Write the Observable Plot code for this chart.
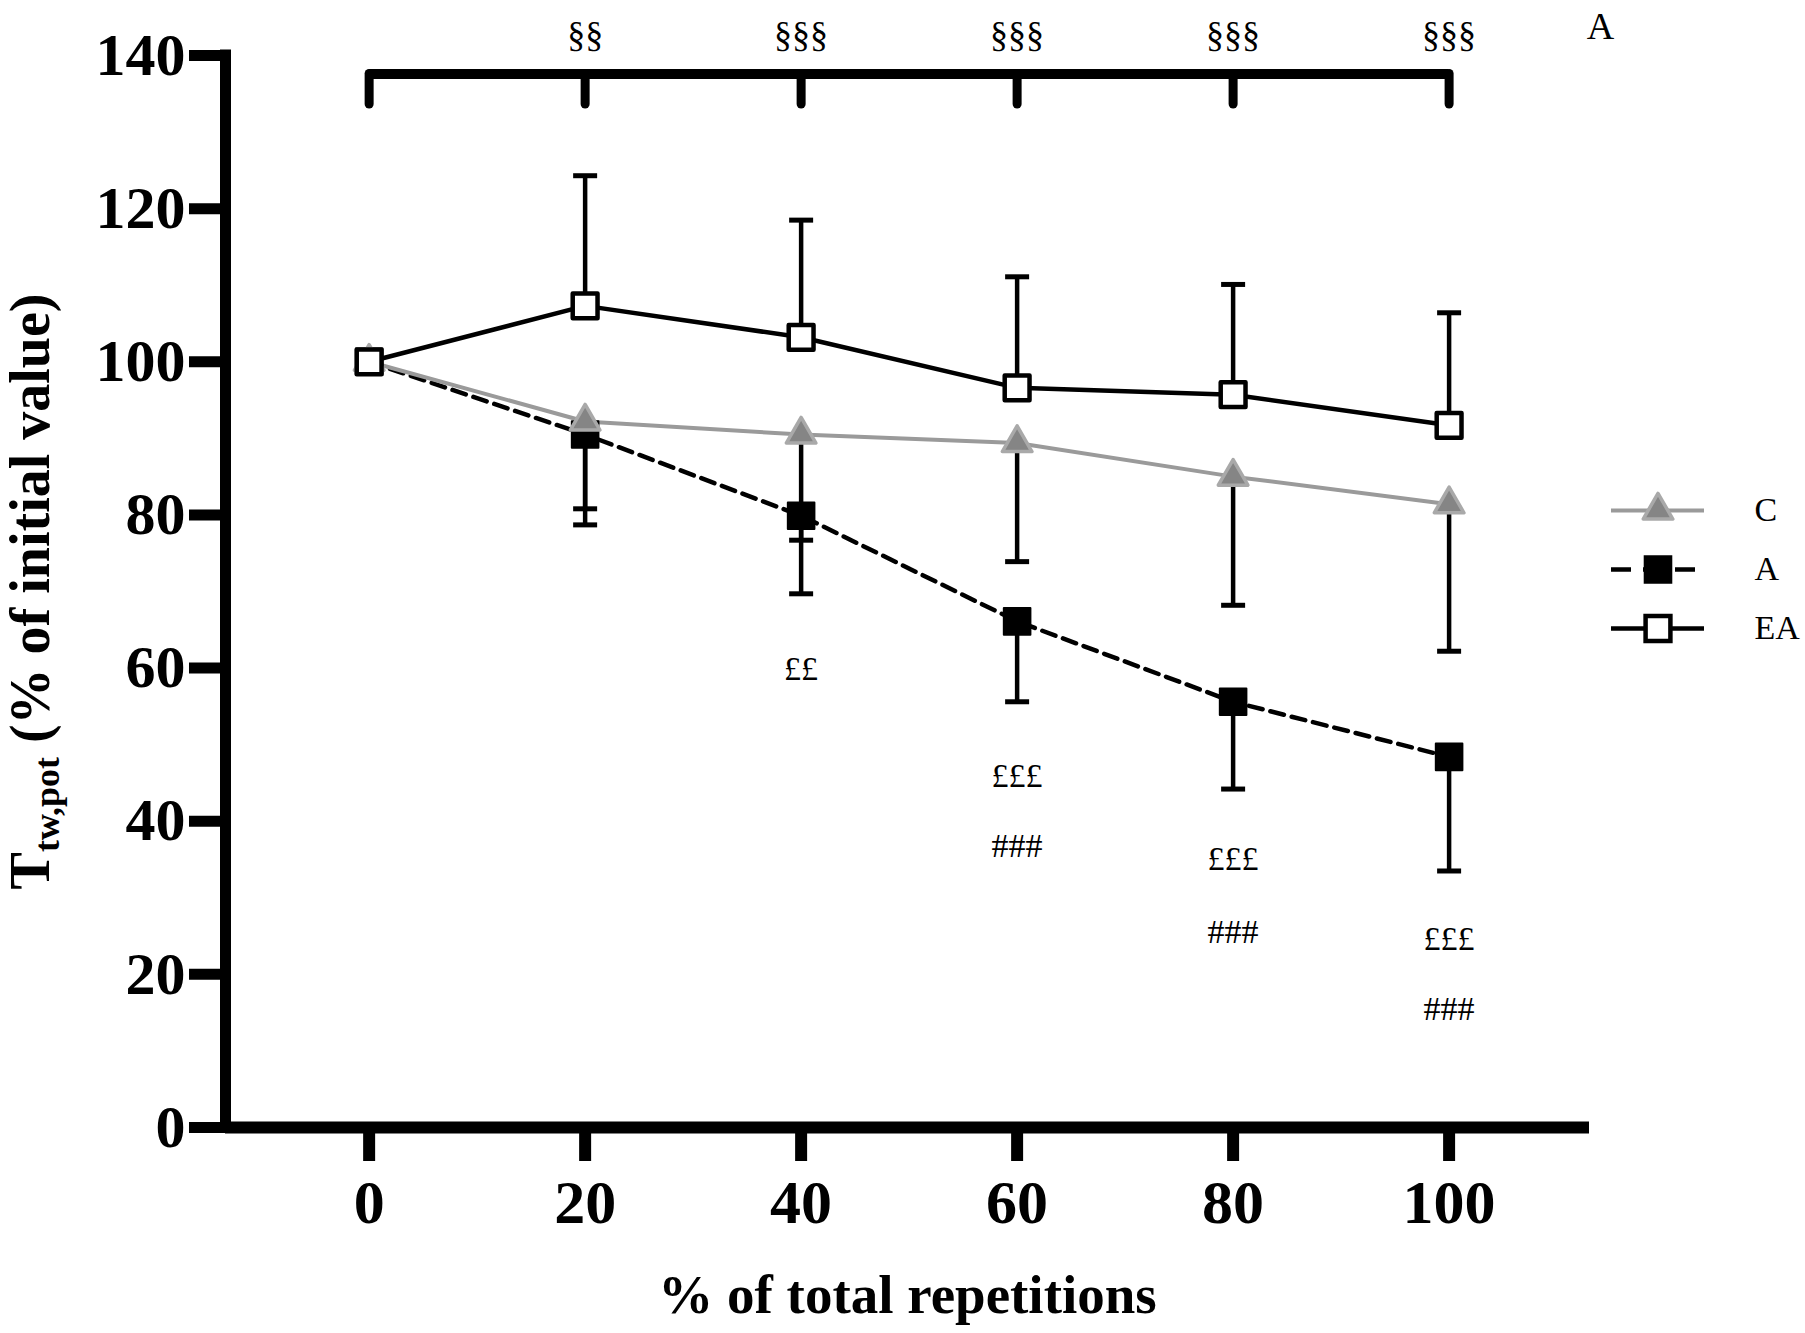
<!DOCTYPE html>
<html>
<head>
<meta charset="utf-8">
<script src="https://cdn.jsdelivr.net/npm/d3@7"></script>
<script src="https://cdn.jsdelivr.net/npm/@observablehq/plot@0.6"></script>
<style>
html, body { margin: 0; padding: 0; background: #fff; }
#wrap { position: relative; width: 1805px; height: 1333px; overflow: hidden; }
#legend { position: absolute; left: 1600px; top: 440px; }
</style>
</head>
<body>
<div id="wrap"></div>
<script>
// ---------- data ----------
const reps = [0, 20, 40, 60, 80, 100];
const meanC  = [100, 92.2, 90.5, 89.4, 85.0, 81.4];
const sdC    = [0, 11.4, 13.8, 15.5, 16.8, 19.2];
const meanA  = [100, 90.5, 79.9, 66.1, 55.6, 48.4];
const sdA    = [0, 11.8, 10.2, 10.5, 11.4, 14.9];
const meanEA = [100, 107.3, 103.2, 96.6, 95.7, 91.7];
const sdEA   = [0, 17.0, 15.3, 14.5, 14.4, 14.7];

const xTicks = [0, 20, 40, 60, 80, 100];
const yTicks = [0, 20, 40, 60, 80, 100, 120, 140];
const xDomain = [-13.3, 113];
const yDomain = [0, 140];

const seriesNames = ["C", "A", "EA"];
const xLabel = "% of total repetitions";
const yLabel = "Ttw,pot (% of initial value)";
const panelLabel = "A";

// significance annotations (EA vs A, bracket on top)
const sectionLabels = [
  {x: 20, text: "§§"}, {x: 40, text: "§§§"}, {x: 60, text: "§§§"},
  {x: 80, text: "§§§"}, {x: 100, text: "§§§"}
];
const sectionY = 142.7;
const bracketY = 137.6;
const bracketTickEnd = 133.6;
const bracketTicks = [0, 20, 40, 60, 80, 100];
const poundLabels = [
  {x: 40, y: 59.8, text: "££"}, {x: 60, y: 45.9, text: "£££"},
  {x: 80, y: 35.0, text: "£££"}, {x: 100, y: 24.6, text: "£££"}
];
const hashLabels = [
  {x: 60, y: 36.8, text: "###"}, {x: 80, y: 25.5, text: "###"}, {x: 100, y: 15.5, text: "###"}
];

// ---------- tables ----------
const rows = (mean, sd, dir) => reps.map((x, i) => ({x, y: mean[i], end: mean[i] + dir * sd[i], sd: sd[i]}));
const dataC = rows(meanC, sdC, -1);
const dataA = rows(meanA, sdA, -1);
const dataEA = rows(meanEA, sdEA, +1);
const withErr = d => d.filter(r => r.sd > 0);

const capSymbol = {
  draw(ctx, size) {
    const w = Math.sqrt(size / Math.PI);
    ctx.moveTo(-w, 0);
    ctx.lineTo(w, 0);
  }
};

const font = "'Liberation Serif', 'Times New Roman', Times, serif";
const gray = "#9a9a9a";

const errMarks = (d) => [
  Plot.ruleX(withErr(d), {x: "x", y1: "y", y2: "end", stroke: "black", strokeWidth: 4.5}),
  Plot.dot(withErr(d), {x: "x", y: "end", symbol: capSymbol, r: 12, stroke: "black", strokeWidth: 5, fill: "none"})
];

const chart = Plot.plot({
  width: 1805,
  height: 1333,
  marginLeft: 225,
  marginRight: 216,
  marginTop: 55,
  marginBottom: 206,
  x: {domain: xDomain, label: null},
  y: {domain: yDomain, label: null},
  style: {fontFamily: font, fontWeight: "bold", background: "white", color: "black", overflow: "visible"},
  marks: [
    // axis lines
    Plot.ruleX([xDomain[0]], {y1: yDomain[0], y2: yDomain[1], stroke: "black", strokeWidth: 11, strokeLinecap: "square"}),
    Plot.ruleY([0], {stroke: "black", strokeWidth: 12}),
    Plot.axisY({ticks: yTicks, tickSize: 36, tickPadding: 4, strokeWidth: 11, fontSize: 60, fontWeight: "bold", tickFormat: d => String(d), label: null}),
    Plot.axisX({ticks: xTicks, tickSize: 34, tickPadding: 17, strokeWidth: 12, fontSize: 62, fontWeight: "bold", tickFormat: d => String(d), label: null}),
    // axis titles
    Plot.text([xLabel], {frameAnchor: "bottom", dy: 168, text: d => d, fontSize: 55, fontWeight: "bold", textAnchor: "middle", lineAnchor: "middle"}),
    Plot.text([yLabel], {frameAnchor: "left", dx: -194, rotate: -90, text: d => d, fontSize: 56, fontWeight: "bold", textAnchor: "middle", lineAnchor: "middle"}),
    Plot.text([panelLabel], {frameAnchor: "top-right", dx: 11, dy: -29, text: d => d, fontSize: 38, fontWeight: "normal", textAnchor: "middle", lineAnchor: "middle"}),
    // significance bracket
    Plot.ruleY([bracketY], {x1: bracketTicks[0], x2: bracketTicks[bracketTicks.length - 1], stroke: "black", strokeWidth: 10}),
    Plot.ruleX(bracketTicks, {x: d => d, y1: bracketY, y2: bracketTickEnd, stroke: "black", strokeWidth: 9, strokeLinecap: "round"}),
    Plot.text(sectionLabels, {x: "x", y: () => sectionY, text: "text", fontSize: 36, fontWeight: "normal", lineAnchor: "middle"}),
    Plot.text(poundLabels, {x: "x", y: "y", text: "text", fontSize: 34, fontWeight: "normal", lineAnchor: "middle"}),
    Plot.text(hashLabels, {x: "x", y: "y", text: "text", fontSize: 34, fontWeight: "normal", lineAnchor: "middle"}),
    // error bars
    ...errMarks(dataA),
    ...errMarks(dataC),
    ...errMarks(dataEA),
    // lines
    Plot.line(dataA, {x: "x", y: "y", stroke: "black", strokeWidth: 4.5, strokeDasharray: "14,8"}),
    Plot.line(dataC, {x: "x", y: "y", stroke: gray, strokeWidth: 4}),
    Plot.line(dataEA, {x: "x", y: "y", stroke: "black", strokeWidth: 4.5}),
    // symbols
    Plot.dot(dataA, {x: "x", y: "y", symbol: "square", r: 15, fill: "black", stroke: "black", strokeWidth: 2, strokeLinejoin: "round"}),
    Plot.dot(dataC, {x: "x", y: "y", symbol: "triangle", r: 11, fill: "#858585", stroke: "#a9a9a9", strokeWidth: 3.5, strokeLinejoin: "round"}),
    Plot.dot(dataEA, {x: "x", y: "y", symbol: "square", r: 14, fill: "white", stroke: "black", strokeWidth: 4.5, strokeLinejoin: "round"})
  ]
});

const legend = Plot.plot({
  width: 205,
  height: 260,
  marginLeft: 11,
  marginRight: 101,
  marginTop: 40,
  marginBottom: 42,
  x: {domain: [0, 1], axis: null},
  y: {type: "point", domain: seriesNames, axis: null},
  style: {fontFamily: font, background: "transparent", color: "black", overflow: "visible"},
  marks: [
    Plot.ruleY(["C"], {y: d => d, stroke: gray, strokeWidth: 4}),
    Plot.ruleY(["A"], {y: d => d, stroke: "black", strokeWidth: 4.5, strokeDasharray: "20,12"}),
    Plot.ruleY(["EA"], {y: d => d, stroke: "black", strokeWidth: 4.5}),
    Plot.dot(["C"], {y: d => d, frameAnchor: "middle", symbol: "triangle", r: 11, fill: "#858585", stroke: "#a9a9a9", strokeWidth: 3.5, strokeLinejoin: "round"}),
    Plot.dot(["A"], {y: d => d, frameAnchor: "middle", symbol: "square", r: 15, fill: "black", stroke: "black", strokeWidth: 2}),
    Plot.dot(["EA"], {y: d => d, frameAnchor: "middle", symbol: "square", r: 14, fill: "white", stroke: "black", strokeWidth: 4.5}),
    Plot.text(seriesNames, {y: d => d, text: d => d, frameAnchor: "right", dx: 50, textAnchor: "start", fontSize: 34, fontWeight: "normal", lineAnchor: "middle"})
  ]
});
legend.id = "legend";

const wrap = document.getElementById("wrap");
wrap.appendChild(chart);
wrap.appendChild(legend);

// subscript in the y-axis title
const ns = "http://www.w3.org/2000/svg";
for (const t of chart.querySelectorAll("text")) {
  if (t.textContent === yLabel) {
    t.textContent = "";
    const a = document.createElementNS(ns, "tspan");
    a.textContent = "T";
    const b = document.createElementNS(ns, "tspan");
    b.textContent = "tw,pot";
    b.setAttribute("font-size", "36");
    b.setAttribute("dy", "10");
    const c = document.createElementNS(ns, "tspan");
    c.textContent = " (% of initial value)";
    c.setAttribute("dy", "-10");
    t.append(a, b, c);
    // center the assembled title explicitly along its own axis
    const len = t.getComputedTextLength();
    t.setAttribute("text-anchor", "start");
    t.setAttribute("x", String(-len / 2));
  }
}
</script>
</body>
</html>
